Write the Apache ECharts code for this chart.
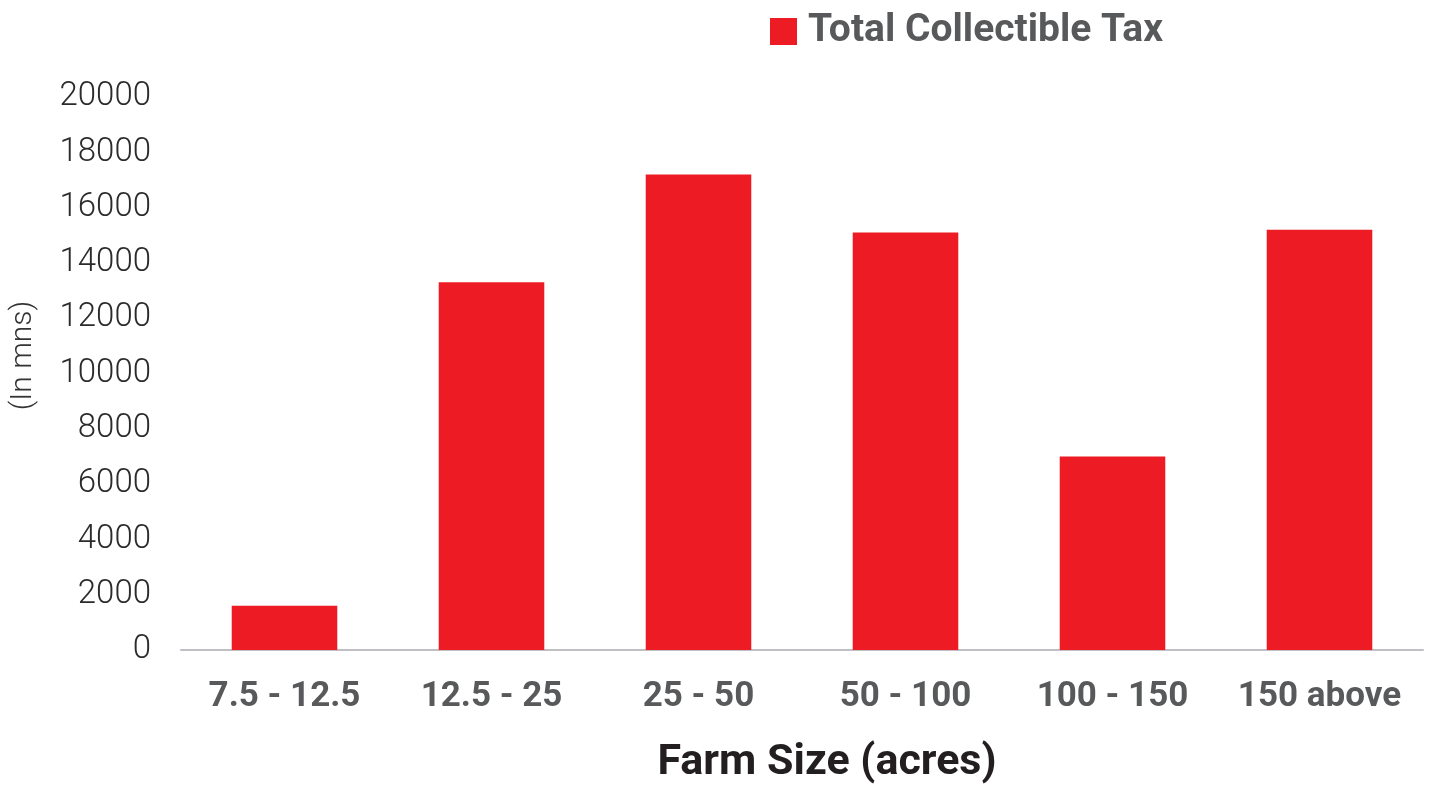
<!DOCTYPE html>
<html>
<head>
<meta charset="utf-8">
<script src="https://cdn.jsdelivr.net/npm/echarts@6/dist/echarts.min.js"></script>
<style>
  html, body { margin: 0; padding: 0; background: #ffffff; }
  #chart { width: 1432px; height: 785px; }
</style>
</head>
<body>
<div id="chart"></div>
<script>
// Farm size bands (acres) and total collectible tax (in millions)
const categories = ['7.5 - 12.5', '12.5 - 25', '25 - 50', '50 - 100', '100 - 150', '150 above'];
const totalCollectibleTax = [1600, 13300, 17200, 15100, 7000, 15200];
const seriesName = 'Total Collectible Tax';
const xAxisTitle = 'Farm Size (acres)';
const yAxisTitle = '(In mns)';

const chart = echarts.init(document.getElementById('chart'), null, { renderer: 'canvas' });

chart.setOption({
  backgroundColor: '#ffffff',
  animation: false,
  textStyle: { fontFamily: 'Roboto' },
  legend: {
    data: [seriesName],
    left: 765,
    top: 7,
    itemWidth: 27,
    itemHeight: 27,
    icon: 'rect',
    textStyle: {
      fontFamily: 'Roboto',
      fontSize: 39,
      fontWeight: 'bold',
      color: '#58595b',
      padding: [0, 0, 0, 6]
    }
  },
  grid: {
    left: 181,
    right: 9,
    top: 97,
    bottom: 135,
    containLabel: false,
    outerBoundsMode: 'none'
  },
  xAxis: {
    type: 'category',
    data: categories,
    name: xAxisTitle,
    nameLocation: 'middle',
    nameGap: 92,
    nameTextStyle: {
      fontFamily: 'Roboto',
      fontSize: 43,
      fontWeight: 'bold',
      color: '#231f20',
      padding: [0, 0, 0, 50]
    },
    axisLine: { show: true, lineStyle: { color: '#bfbfc4', width: 2 } },
    axisTick: { show: false },
    axisLabel: {
      interval: 0,
      margin: 30,
      fontFamily: 'Roboto',
      fontSize: 35,
      fontWeight: 'bold',
      color: '#58595b'
    }
  },
  yAxis: {
    type: 'value',
    min: 0,
    max: 20000,
    interval: 2000,
    name: yAxisTitle,
    nameLocation: 'middle',
    nameGap: 143,
    nameRotate: 90,
    nameTextStyle: {
      fontFamily: 'Roboto',
      fontSize: 30,
      fontWeight: 300,
      color: '#333333',
      padding: [0, 0, 0, 36]
    },
    axisLine: { show: false },
    axisTick: { show: false },
    splitLine: { show: false },
    axisLabel: {
      margin: 30,
      fontFamily: 'Roboto',
      fontSize: 33,
      fontWeight: 300,
      color: '#2b2b2b',
      formatter: (v) => String(v)
    }
  },
  series: [{
    name: seriesName,
    type: 'bar',
    data: totalCollectibleTax,
    barWidth: '51%',
    itemStyle: { color: '#ed1c24' }
  }]
});
</script>
</body>
</html>
